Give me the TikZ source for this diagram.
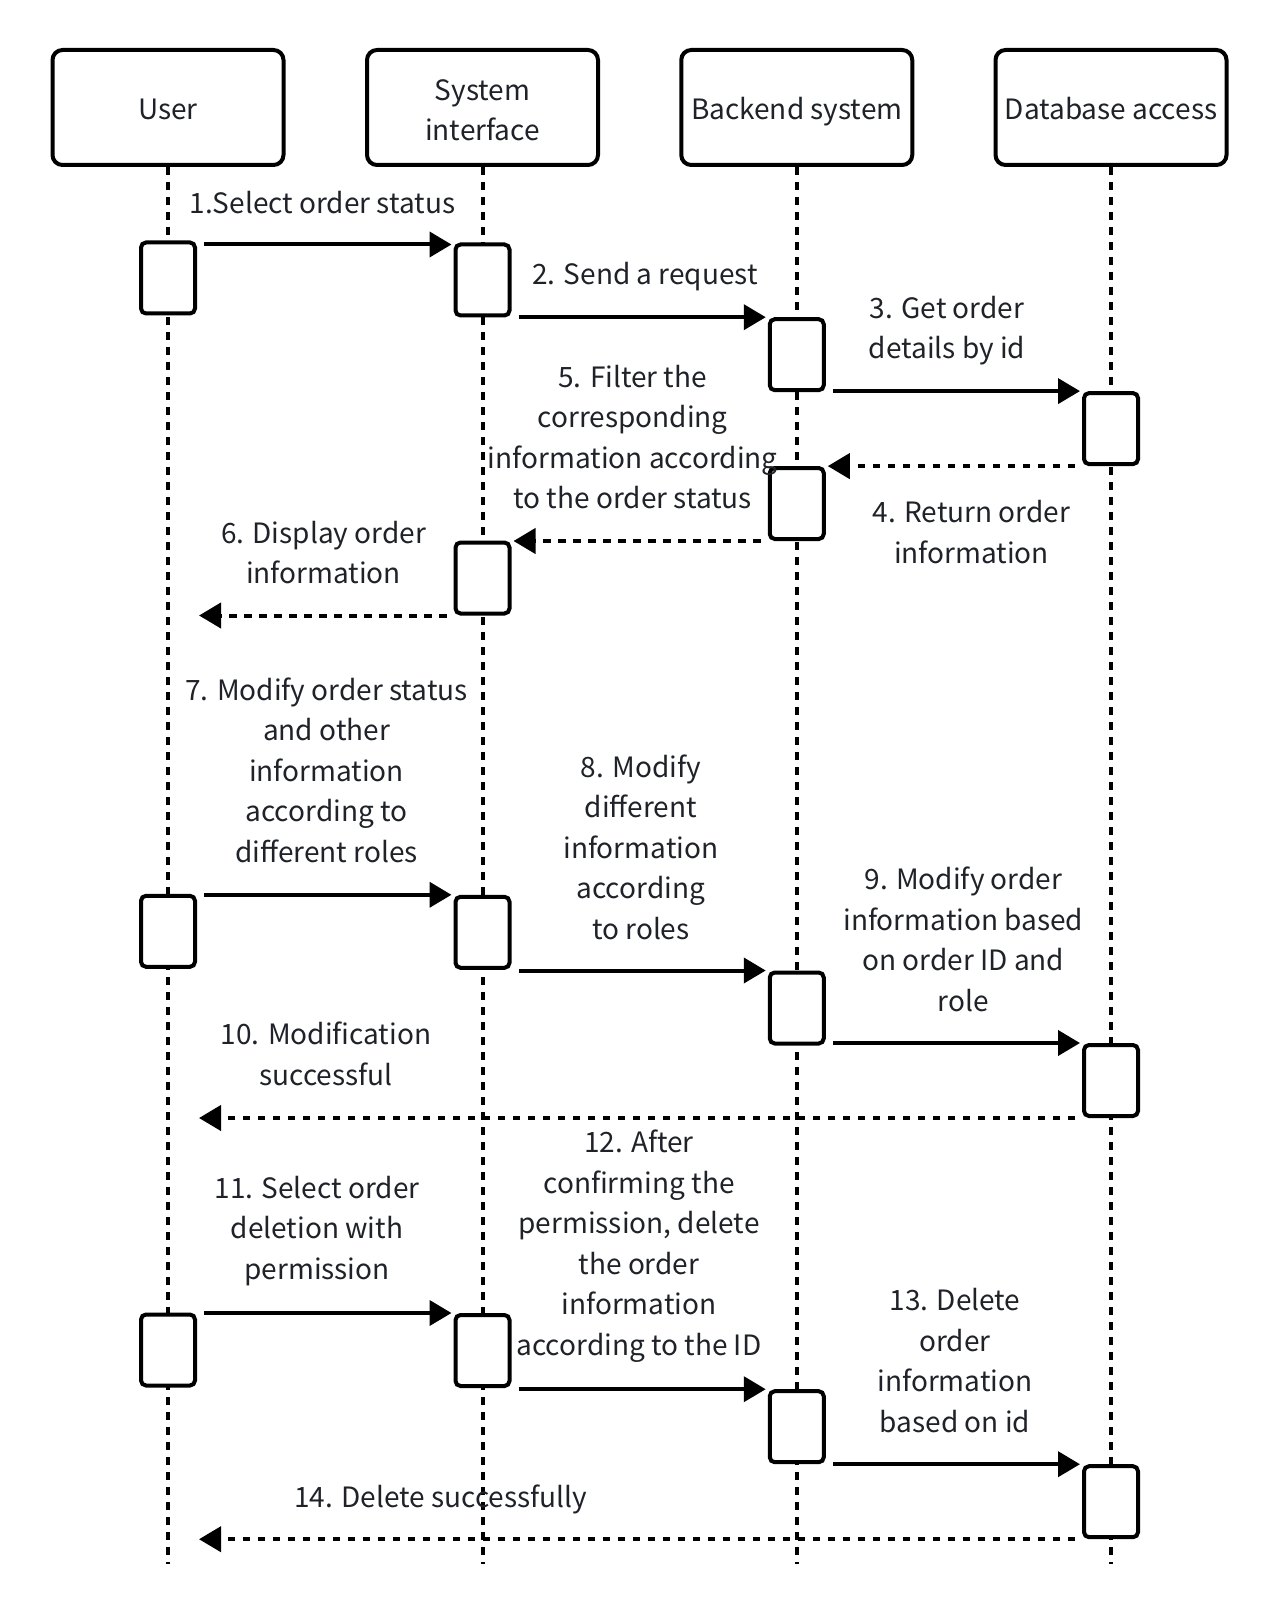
\documentclass[tikz,border=0pt]{standalone}
\usepackage{fontspec}
\setmainfont{Noto Sans CJK SC}
\usetikzlibrary{arrows.meta,positioning,calc}
\definecolor{inkgray}{RGB}{31,35,41}

\begin{document}
\begin{tikzpicture}[x=0.5pt,y=-0.5pt,
    every node/.style={font=\fontsize{14pt}{20.25pt}\selectfont,text=inkgray},
    head/.style={draw=black,line width=2pt,rounded corners=5pt,fill=white,
                 minimum width=115.5pt,minimum height=57.5pt,align=center},
    onehead/.style={head,text height=14pt,text depth=1.5pt},
    act/.style={draw=black,line width=2pt,rounded corners=2.5pt,fill=white,
                minimum width=27pt,minimum height=35.5pt,inner sep=0pt},
    lifeline/.style={line width=2pt,dash pattern=on 4pt off 3.5pt},
    call/.style={line width=2pt,-{Triangle[length=11pt,width=12.5pt]}},
    reply/.style={call,dash pattern=on 3.75pt off 3.75pt},
    msg/.style={align=center}
  ]
  \useasboundingbox (0,0) rectangle (1280,1610);

  % participants
  \node[onehead] (user)    at (168,107.5)    {User};
  \node[head]    (sysif)   at (482.5,107.5)  {\rule{0pt}{13.3pt}System\\interface};
  \node[onehead] (backend) at (796.75,107.5) {Backend system};
  \node[onehead] (dbacc)   at (1111,107.5)   {Database access};

  % lifelines
  \coordinate (bottom) at (0,1564);
  \foreach \p in {user,sysif,backend,dbacc}
    \draw[lifeline] (\p.south) -- (\p.south |- bottom);

  % activation boxes
  \foreach \n/\x/\y in {u1/168/278, u2/168/931.3, u3/168/1350,
                        s1/482.5/280, s2/482.5/578, s3/482.5/932.3, s4/482.5/1350.5,
                        b1/796.75/354.7, b2/796.75/503.5, b3/796.75/1008, b4/796.75/1426.7,
                        d1/1111/428.6, d2/1111/1080.5, d3/1111/1501.7}
    \node[act] (\n) at (\x,\y) {};

  % messages
  \draw[call]  ($(u1.east |- s1.north)+(7,2)$) -- ($(s1.north west)+(-2,2)$);
  \draw[call]  ($(s1.east |- b1.north)+(7,0)$) -- ($(b1.north west)+(-2,0)$);
  \draw[call]  ($(b1.east |- d1.north)+(7,0)$) -- ($(d1.north west)+(-2,0)$);
  \draw[reply] ($(d1.south west)+(-7,0)$) -- ($(b2.east |- d1.south)+(2,0)$);
  \draw[reply] ($(b2.south west)+(-7,0)$) -- ($(s2.east |- b2.south)+(2,0)$);
  \draw[reply] ($(s2.south west)+(-7,0)$) -- ($(user.south |- s2.south)+(31,0)$);

  \draw[call]  ($(u2.east |- s3.north)+(7,0)$) -- ($(s3.north west)+(-2,0)$);
  \draw[call]  ($(s3.east |- b3.north)+(7,0)$) -- ($(b3.north west)+(-2,0)$);
  \draw[call]  ($(b3.east |- d2.north)+(7,0)$) -- ($(d2.north west)+(-2,0)$);
  \draw[reply] ($(d2.south west)+(-7,0)$) -- ($(user.south |- d2.south)+(31,0)$);

  \draw[call]  ($(u3.east |- s4.north)+(7,0)$) -- ($(s4.north west)+(-2,0)$);
  \draw[call]  ($(s4.east |- b4.north)+(7,0)$) -- ($(b4.north west)+(-2,0)$);
  \draw[call]  ($(b4.east |- d3.north)+(7,0)$) -- ($(d3.north west)+(-2,0)$);
  \draw[reply] ($(d3.south west)+(-7,0)$) -- ($(user.south |- d3.south)+(31,0)$);

  % message labels
  \node[msg] (m1)  at (322.5,203)   {1.Select order status};
  \node[msg] (m2)  at (645,277)     {2. Send a request};
  \node[msg] (m3)  at (947,330.5)   {3. Get order\\details by id};
  \node[msg] (m4)  at (971.5,532)   {4. Return order\\information};
  \node[msg] (m5)  at (632.7,437)   {5. Filter the\\corresponding\\information according\\to the order status};
  \node[msg] (m6)  at (323.5,552.5) {6. Display order\\information};
  \node[msg] (m7)  at (326.5,770)   {7. Modify order status\\and other\\information\\according to\\different roles};
  \node[msg] (m8)  at (640.8,847)   {8. Modify\\different\\information\\according\\to roles};
  \node[msg] (m9)  at (963.3,939.5) {9. Modify order\\information based\\on order ID and\\role};
  \node[msg] (m10) at (326,1054)    {10. Modification\\successful};
  \node[msg] (m11) at (317,1231)    {11. Select order\\deletion with\\permission};
  \node[msg] (m12) at (639,1246)    {12. After\\confirming the\\permission, delete\\the order\\information\\according to the ID};
  \node[msg] (m13) at (955,1360.5)  {13. Delete\\order\\information\\based on id};
  \node[msg] (m14) at (440.8,1499.5) {14. Delete successfully};
\end{tikzpicture}
\end{document}
